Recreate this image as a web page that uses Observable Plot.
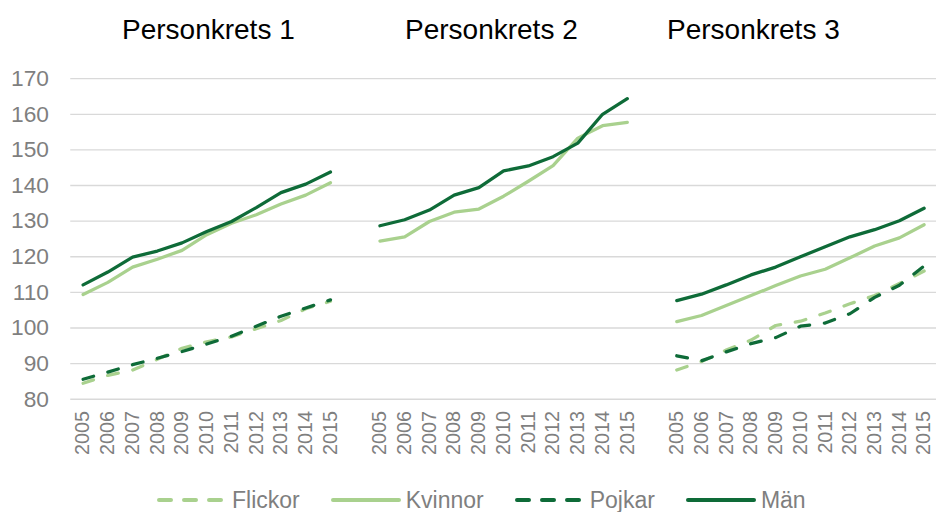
<!DOCTYPE html>
<html>
<head>
<meta charset="utf-8">
<script src="https://cdn.jsdelivr.net/npm/d3@7"></script>
<script src="https://cdn.jsdelivr.net/npm/@observablehq/plot@0.6"></script>
<style>
  html, body { margin: 0; padding: 0; background: #fff; overflow: hidden; width: 936px; height: 512px; }
  body { position: relative; font-family: "Liberation Sans", Arial, sans-serif; }
  .title { position: absolute; top: 16px; font-size: 28px; line-height: 28px; color: #000; white-space: nowrap; }
  #legend { position: absolute; left: 157px; top: 488px; display: flex; gap: 31px; align-items: center; height: 24px; }
  .item { display: flex; align-items: center; height: 24px; }
  .item svg { margin-right: 5px; display: block; }
  .item span { font-size: 23px; line-height: 24px; color: #7f7f7f; white-space: nowrap; }
</style>
</head>
<body>
<div id="chart"></div>
<div id="titles"></div>
<div id="legend"></div>
<script>
// ---- data ----
const years = [2005, 2006, 2007, 2008, 2009, 2010, 2011, 2012, 2013, 2014, 2015];
const panels = ["Personkrets 1", "Personkrets 2", "Personkrets 3"];
const seriesNames = ["Flickor", "Kvinnor", "Pojkar", "Män"];
const yTicks = [80, 90, 100, 110, 120, 130, 140, 150, 160, 170];

// values per panel (null = not shown)
const flickor = [
  [84.5, 86.7, 88.2, 91.2, 94.3, 96.1, 97.5, 99.8, 102.1, 105.4, 107.5],
  null,
  [88.2, 90.6, 93.8, 96.6, 100.7, 101.9, 104.2, 106.8, 109.1, 112.5, 116.0]
];
const kvinnor = [
  [109.4, 112.8, 117.1, 119.3, 121.8, 126.2, 129.4, 131.8, 134.8, 137.3, 140.8],
  [124.4, 125.6, 129.9, 132.5, 133.4, 137.0, 141.2, 145.6, 153.3, 156.8, 157.7],
  [101.8, 103.5, 106.3, 109.1, 111.9, 114.6, 116.5, 119.7, 123.0, 125.3, 129.0]
];
const pojkar = [
  [85.6, 87.6, 89.7, 91.5, 93.4, 95.5, 97.7, 100.5, 103.3, 105.6, 107.9],
  null,
  [92.2, 90.8, 93.3, 95.6, 97.3, 100.5, 101.4, 104.0, 108.6, 112.0, 117.4]
];
const man = [
  [112.1, 115.7, 119.9, 121.6, 123.9, 127.1, 129.9, 133.8, 138.0, 140.4, 143.8],
  [128.7, 130.4, 133.1, 137.3, 139.4, 144.1, 145.5, 148.1, 151.9, 160.0, 164.4],
  [107.7, 109.5, 112.1, 114.9, 117.1, 120.0, 122.8, 125.6, 127.6, 130.1, 133.6]
];

// ---- styles ----
const LIGHT = "#a9d18e";
const DARK = "#0e6b38";
const styles = {
  "Flickor": {stroke: LIGHT, dash: "11,15"},
  "Kvinnor": {stroke: LIGHT, dash: null},
  "Pojkar":  {stroke: DARK,  dash: "11,15"},
  "Män":     {stroke: DARK,  dash: null}
};
const seriesValues = {"Flickor": flickor, "Kvinnor": kvinnor, "Pojkar": pojkar, "Män": man};

// slot along the x axis: each panel takes 12 slots (11 years + 1 blank)
const slotsPerPanel = years.length + 1;
const rows = [];
for (const s of seriesNames) {
  seriesValues[s].forEach((vals, p) => {
    if (!vals) return;
    vals.forEach((v, i) => rows.push({series: s, panel: p, slot: p * slotsPerPanel + i, value: v}));
  });
}
const xTickSlots = [];
panels.forEach((_, p) => years.forEach((_, i) => xTickSlots.push(p * slotsPerPanel + i)));
const nSlots = panels.length * slotsPerPanel - 1;

const marks = [
  Plot.ruleY(yTicks, {stroke: "#d9d9d9", strokeWidth: 1.3}),
  Plot.axisY({ticks: yTicks, tickSize: 0, tickPadding: 22, fontSize: 23, color: "#7f7f7f", label: null}),
  Plot.axisX({ticks: xTickSlots, tickFormat: d => String(years[d % slotsPerPanel]), tickRotate: -90,
              tickSize: 0, tickPadding: 12, fontSize: 20, color: "#7f7f7f", label: null})
];
for (const s of seriesNames) {
  marks.push(Plot.line(rows.filter(r => r.series === s), {
    x: "slot", y: "value", z: "panel",
    stroke: styles[s].stroke, strokeWidth: 3.3,
    strokeDasharray: styles[s].dash || undefined,
    strokeLinecap: "round", strokeLinejoin: "round"
  }));
}

const chart = Plot.plot({
  width: 946,
  height: 470,
  marginLeft: 71,
  marginRight: 0,
  marginTop: 79,
  marginBottom: 67,
  style: {fontFamily: "'Liberation Sans', Arial, sans-serif", background: "transparent", overflow: "visible"},
  x: {type: "linear", domain: [-0.5, nSlots - 0.5], label: null},
  y: {domain: [80, 170], label: null},
  marks
});
chart.style.position = "absolute";
chart.style.left = "0px";
chart.style.top = "0px";
document.getElementById("chart").appendChild(chart);

// ---- panel titles ----
const titleLefts = [122, 405, 667];
const titlesDiv = document.getElementById("titles");
panels.forEach((t, i) => {
  const d = document.createElement("div");
  d.className = "title";
  d.style.left = titleLefts[i] + "px";
  d.textContent = t;
  titlesDiv.appendChild(d);
});

// ---- legend ----
const legend = document.getElementById("legend");
for (const s of seriesNames) {
  const item = document.createElement("div");
  item.className = "item";
  const dash = styles[s].dash ? ' stroke-dasharray="12,13"' : "";
  item.innerHTML = `<svg width="70" height="24"><line x1="2" x2="68" y1="12" y2="12" stroke="${styles[s].stroke}" stroke-width="4" stroke-linecap="round"${dash}/></svg><span>${s}</span>`;
  legend.appendChild(item);
}
</script>
</body>
</html>
